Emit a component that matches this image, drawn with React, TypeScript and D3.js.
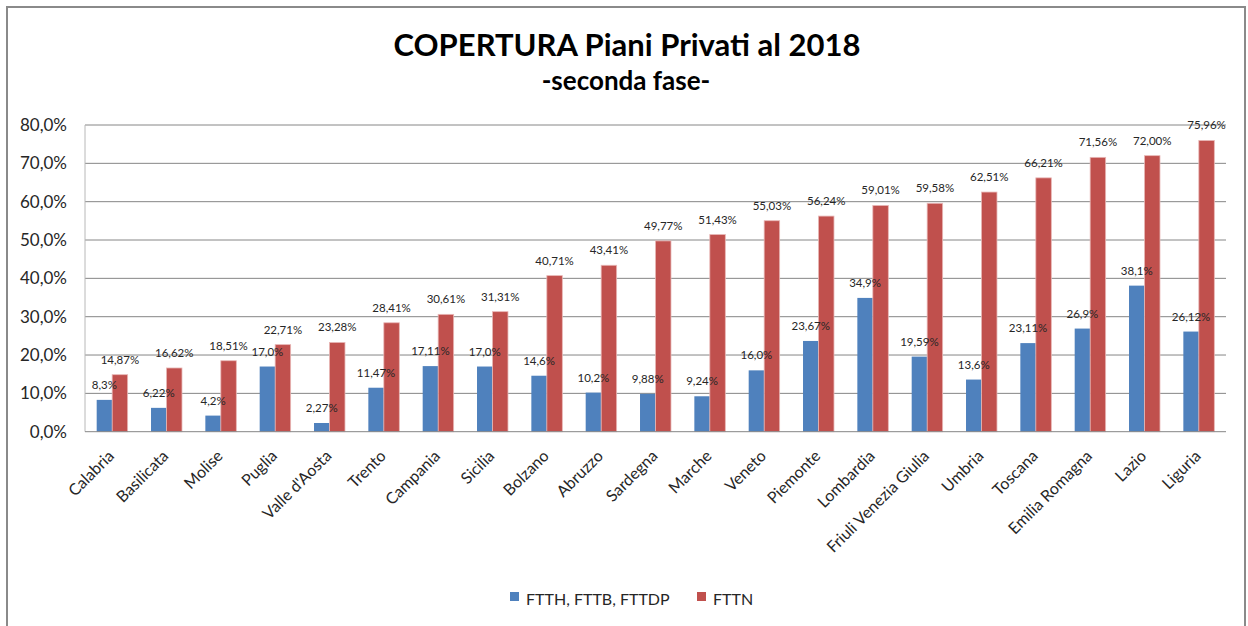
import React from "react";
import * as d3 from "d3";

const regions = [
  "Calabria", "Basilicata", "Molise", "Puglia", "Valle d'Aosta", "Trento", "Campania",
  "Sicilia", "Bolzano", "Abruzzo", "Sardegna", "Marche", "Veneto", "Piemonte",
  "Lombardia", "Friuli Venezia Giulia", "Umbria", "Toscana", "Emilia Romagna", "Lazio", "Liguria",
];
const ftthValues = [8.3, 6.22, 4.2, 17.0, 2.27, 11.47, 17.11, 17.0, 14.6, 10.2, 9.88, 9.24, 16.0, 23.67, 34.9, 19.59, 13.6, 23.11, 26.9, 38.1, 26.12];
const ftthLabels = ["8,3%", "6,22%", "4,2%", "17,0%", "2,27%", "11,47%", "17,11%", "17,0%", "14,6%", "10,2%", "9,88%", "9,24%", "16,0%", "23,67%", "34,9%", "19,59%", "13,6%", "23,11%", "26,9%", "38,1%", "26,12%"];
const fttnValues = [14.87, 16.62, 18.51, 22.71, 23.28, 28.41, 30.61, 31.31, 40.71, 43.41, 49.77, 51.43, 55.03, 56.24, 59.01, 59.58, 62.51, 66.21, 71.56, 72.0, 75.96];
const fttnLabels = ["14,87%", "16,62%", "18,51%", "22,71%", "23,28%", "28,41%", "30,61%", "31,31%", "40,71%", "43,41%", "49,77%", "51,43%", "55,03%", "56,24%", "59,01%", "59,58%", "62,51%", "66,21%", "71,56%", "72,00%", "75,96%"];
const yTicks = [0, 10, 20, 30, 40, 50, 60, 70, 80];
const seriesNames = ["FTTH, FTTB, FTTDP", "FTTN"];
const seriesColors = ["#4F81BD", "#C0504D"];

const W = 1248;
const H = 626;
const FONT = "Lato, 'Open Sans', sans-serif";

export default function App() {
  const left = 85, right = 1226, top = 125, bottom = 431.7;
  const x = d3.scaleBand<string>().domain(regions).range([left, right]).paddingInner(0.43).paddingOuter(0.215);
  const sub = d3.scaleBand<number>().domain([0, 1]).range([0, x.bandwidth()]);
  const y = d3.scaleLinear().domain([0, 80]).range([bottom, top]);
  const series = [ftthValues, fttnValues];
  const labels = [ftthLabels, fttnLabels];
  const fmt = (v: number) => d3.format(".1f")(v).replace(".", ",") + "%";

  return (
    <svg width={W} height={H} style={{ position: "absolute", left: 0, top: 0, background: "#fff" }} fontFamily={FONT}>
      <rect x={0} y={0} width={W} height={H} fill="#fff" />
      <rect x={7} y={7} width={1238} height={640} fill="none" stroke="#8a8a8a" strokeWidth={2} />
      <text x={627} y={56} textAnchor="middle" fontSize={31} fontWeight={700} fill="#000">
        COPERTURA Piani Privati al 2018
      </text>
      <text x={626} y={89.5} textAnchor="middle" fontSize={26} fontWeight={700} fill="#000">
        -seconda fase-
      </text>
      {yTicks.map((t) => (
        <g key={t}>
          {t > 0 && <line x1={left} x2={right} y1={y(t)} y2={y(t)} stroke="#868686" strokeWidth={1} />}
          <text x={67} y={y(t)} dy="0.35em" textAnchor="end" fontSize={17} fill="#262626">
            {fmt(t)}
          </text>
        </g>
      ))}
      <line x1={left} x2={left} y1={top} y2={bottom} stroke="#b8b8b8" strokeWidth={1} />
      {series.map((vals, si) =>
        vals.map((v, i) => {
          const bx = (x(regions[i]) as number) + (sub(si) as number);
          return (
            <rect
              key={`${si}-${i}`}
              x={bx}
              y={y(v)}
              width={sub.bandwidth()}
              height={y(0) - y(v)}
              fill={seriesColors[si]}
              stroke={si === 1 ? "#E8B7B6" : "none"}
              strokeWidth={si === 1 ? 0.8 : 0}
            />
          );
        })
      )}
      <line x1={left} x2={right} y1={bottom} y2={bottom} stroke="#868686" strokeWidth={1} />
      {series.map((vals, si) =>
        vals.map((v, i) => {
          const cx = (x(regions[i]) as number) + (sub(si) as number) + sub.bandwidth() / 2;
          return (
            <text key={`l${si}-${i}`} x={cx} y={y(v) - 11} textAnchor="middle" fontSize={11.5} fill="#262626">
              {labels[si][i]}
            </text>
          );
        })
      )}
      {regions.map((r) => {
        const cx = (x(r) as number) + x.bandwidth() / 2;
        return (
          <text
            key={r}
            transform={`translate(${cx + 3},457) rotate(-45)`}
            textAnchor="end"
            fontSize={16}
            fill="#262626"
          >
            {r}
          </text>
        );
      })}
      {seriesNames.map((n, i) => {
        const lx = i === 0 ? 510 : 697;
        return (
          <g key={n}>
            <rect x={lx} y={592} width={9} height={9} fill={seriesColors[i]} />
            <text x={lx + 16} y={605} fontSize={16} fill="#262626">
              {n}
            </text>
          </g>
        );
      })}
    </svg>
  );
}
